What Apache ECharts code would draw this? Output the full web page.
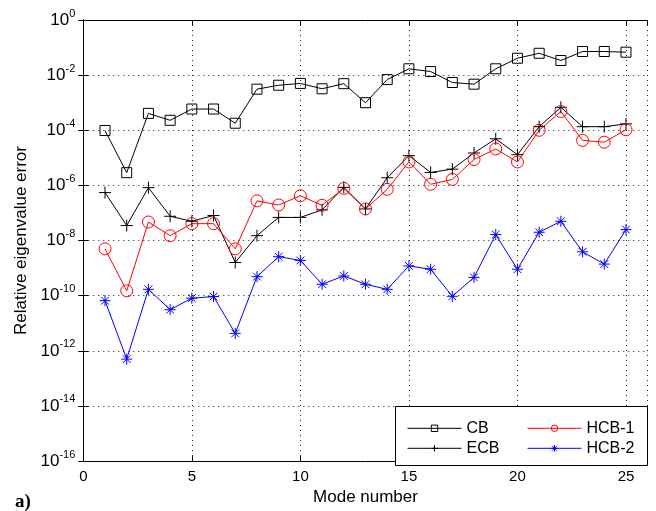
<!DOCTYPE html>
<html>
<head>
<meta charset="utf-8">
<script src="https://cdn.jsdelivr.net/npm/echarts@6/dist/echarts.min.js"></script>
<style>
html,body{margin:0;padding:0;background:#fff;}
#chart{width:656px;height:511px;}
</style>
</head>
<body>
<div id="chart"></div>
<script>
const modes = [1,2,3,4,5,6,7,8,9,10,11,12,13,14,15,16,17,18,19,20,21,22,23,24,25];
const cb = [9.8e-5,2.9e-6,4.1e-4,2.3e-4,5.9e-4,5.9e-4,1.8e-4,3.1e-3,4.3e-3,5.0e-3,3.2e-3,4.9e-3,1.0e-3,6.9e-3,1.7e-2,1.35e-2,5.4e-3,4.7e-3,1.7e-2,4.1e-2,6.2e-2,3.4e-2,7.2e-2,7.2e-2,6.8e-2];
const ecb = [5.5e-7,3.5e-8,8.3e-7,7.6e-8,5.0e-8,8.1e-8,1.6e-9,1.5e-8,6.9e-8,6.9e-8,1.3e-7,8.5e-7,1.4e-7,1.9e-6,1.2e-5,2.95e-6,3.9e-6,1.5e-5,4.9e-5,1.3e-5,1.35e-4,6.8e-4,1.35e-4,1.35e-4,1.7e-4];
const hcb1 = [5.0e-9,1.5e-10,4.7e-8,1.5e-8,4.1e-8,4.1e-8,5.0e-9,2.75e-7,1.95e-7,4.2e-7,1.9e-7,7.8e-7,1.4e-7,7.2e-7,7.1e-6,1.1e-6,1.65e-6,8.7e-6,2.1e-5,7.1e-6,1.0e-4,4.8e-4,4.3e-5,3.7e-5,1.05e-4];
const hcb2 = [6.6e-11,5.0e-13,1.7e-10,3.1e-11,8.1e-11,9.3e-11,4.3e-12,4.9e-10,2.6e-9,1.9e-9,2.6e-10,5.2e-10,2.6e-10,1.7e-10,1.2e-9,9.1e-10,9.5e-11,4.6e-10,1.65e-8,9.1e-10,2.0e-8,5.0e-8,3.9e-9,1.4e-9,2.5e-8];
const seriesNames = ['CB','ECB','HCB-1','HCB-2'];
const xTicks = [0,5,10,15,20,25];
const yTickExponents = [0,-2,-4,-6,-8,-10,-12,-14,-16];

const FONT = "'Liberation Sans', Arial, Helvetica, sans-serif";
const chart = echarts.init(document.getElementById('chart'), null, {renderer:'canvas'});
const pairs = arr => arr.map((v,i)=>[modes[i], v]);
const plusPath = 'path://M0,5L10,5M5,0L5,10';
const starPath = 'path://M0,5L10,5M5,0L5,10M1.5,1.5L8.5,8.5M1.5,8.5L8.5,1.5';
const rectPath = 'path://M0,0L10,0L10,10L0,10Z';
const circlePath = 'path://M10,5A5,5,0,1,1,0,5A5,5,0,1,1,10,5Z';

const gridLine = {show:true, lineStyle:{color:'#000', type:[1,4], width:1, opacity:0.9}};
const yLabelFmt = v => {
  const e = Math.round(Math.log10(v));
  return (yTickExponents.indexOf(e) >= 0) ? '{base|10}{sup|' + e + '}' : '';
};
const legendCommon = {
  orient:'vertical', top:418.3, padding:0, itemGap:0,
  itemWidth:54, itemHeight:8, z:10,
  itemStyle:{color:'transparent', borderWidth:1},
  lineStyle:{width:1},
  textStyle:{fontFamily:FONT, fontSize:16, lineHeight:20, color:'#000'}
};

const option = {
  animation:false,
  backgroundColor:'#fff',
  grid:{left:83.3, right:8.3, top:20, bottom:45.7, containLabel:false},
  xAxis:[{
    type:'value', min:0, max:26, interval:5, position:'bottom',
    name:'Mode number', nameLocation:'middle', nameGap:27,
    nameTextStyle:{fontFamily:FONT, fontSize:17, color:'#000'},
    axisLine:{show:true, lineStyle:{color:'#000', width:1}},
    axisTick:{show:true, inside:true, length:5, lineStyle:{color:'#000'}},
    axisLabel:{fontFamily:FONT, fontSize:15, color:'#000', margin:8,
      formatter: v => xTicks.indexOf(v) >= 0 ? String(v) : ''},
    splitLine:gridLine
  },{
    type:'value', min:0, max:26, interval:5, position:'top',
    axisLine:{show:true, lineStyle:{color:'#000', width:1}},
    axisTick:{show:true, inside:true, length:5, lineStyle:{color:'#000'}},
    axisLabel:{show:false}, splitLine:{show:false}
  }],
  yAxis:[{
    type:'log', logBase:100, min:1e-16, max:1, splitNumber:8, position:'left',
    name:'Relative eigenvalue error', nameLocation:'middle', nameGap:52,
    nameTextStyle:{fontFamily:FONT, fontSize:17, color:'#000'},
    axisLine:{show:true, lineStyle:{color:'#000', width:1}},
    axisTick:{show:true, inside:true, length:5, lineStyle:{color:'#000'}},
    axisLabel:{color:'#000', margin:8, fontFamily:FONT, fontSize:16, formatter:yLabelFmt,
      rich:{
        base:{fontFamily:FONT, fontSize:17, lineHeight:24, color:'#000'},
        sup:{fontFamily:FONT, fontSize:11, lineHeight:11, padding:[0,0,13,0], verticalAlign:'top', color:'#000'}
      }},
    splitLine:gridLine
  },{
    type:'log', logBase:100, min:1e-16, max:1, splitNumber:8, position:'right',
    axisLine:{show:true, lineStyle:{color:'#000', width:1}},
    axisTick:{show:true, inside:true, length:5, lineStyle:{color:'#000'}},
    axisLabel:{show:false}, splitLine:{show:false}
  }],
  legend:[
    Object.assign({data:['CB','ECB'], left:407}, legendCommon),
    Object.assign({data:['HCB-1','HCB-2'], left:527}, legendCommon)
  ],
  graphic:[{
    type:'rect', z:8, shape:{x:395.5, y:406.5, width:252, height:59},
    style:{fill:'#fff', stroke:'#000', lineWidth:1}
  },{
    type:'text', left:15, top:493, z:8,
    style:{text:'a)', font:"bold 19px 'Liberation Serif', 'Times New Roman', serif", fill:'#000'}
  }],
  series:[{
    name:seriesNames[0], type:'line', data:pairs(cb), showAllSymbol:true,
    symbol:rectPath, symbolSize:10,
    itemStyle:{color:'transparent', borderColor:'#000', borderWidth:1},
    lineStyle:{color:'#000', width:1}
  },{
    name:seriesNames[1], type:'line', data:pairs(ecb), showAllSymbol:true,
    symbol:plusPath, symbolSize:12,
    itemStyle:{color:'transparent', borderColor:'#000', borderWidth:1},
    lineStyle:{color:'#000', width:1}
  },{
    name:seriesNames[2], type:'line', data:pairs(hcb1), showAllSymbol:true,
    symbol:circlePath, symbolSize:12,
    itemStyle:{color:'transparent', borderColor:'#ff0000', borderWidth:1},
    lineStyle:{color:'#ff0000', width:1}
  },{
    name:seriesNames[3], type:'line', data:pairs(hcb2), showAllSymbol:true,
    symbol:starPath, symbolSize:11,
    itemStyle:{color:'transparent', borderColor:'#0000ff', borderWidth:1},
    lineStyle:{color:'#0000ff', width:1}
  }]
};
chart.setOption(option);
</script>
</body>
</html>
